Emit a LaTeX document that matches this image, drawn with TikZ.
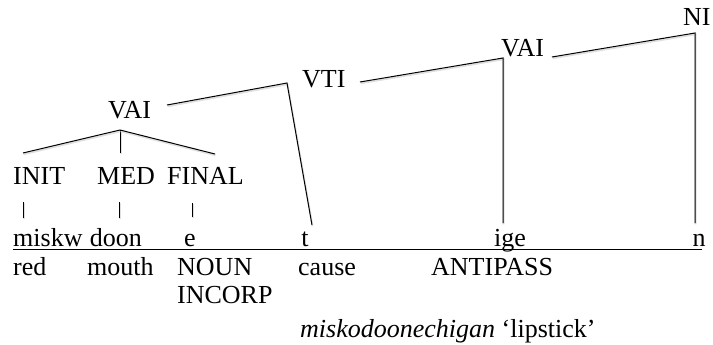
\documentclass[tikz,border=0pt]{standalone}
\usepackage{fontspec}
\setmainfont{Liberation Serif}
\begin{document}
\begin{tikzpicture}[x=1pt,y=-1pt,
  lbl/.style={anchor=base west,inner sep=0pt,font=\fontsize{26}{31}\selectfont},
  lblc/.style={lbl,anchor=base},
  branch/.style={line width=1pt,black,
    preaction={draw=black!12,line width=1.8pt,
      transform canvas={xshift=0.6pt,yshift=-1.3pt}}},
  rule/.style={line width=1pt,black}]
\useasboundingbox (0,0) rectangle (713,345);

% category labels of the tree
\node[lbl] (ni)   at (683,26)  {NI};
\node[lbl] (vai2) at (501,57)  {VAI};
\node[lbl] (vti)  at (302,88)  {VTI};
\node[lbl] (vai1) at (108,118) {VAI};
\node[lbl] (init)  at (13,184)  {INIT};
\node[lbl] (med)   at (97,184)  {MED};
\node[lbl] (final) at (167,184) {FINAL};

% morphemes
\node[lbl]  (miskw) at (13,246)  {miskw};
\node[lbl,anchor=base east] (doon) at (142,246) {doon};
\node[lblc] (e)   at (190,246) {e};
\node[lblc] (t)   at (305,246) {t};
\node[lblc] (ige) at (510,246) {ige};
\node[lblc] (n)   at (699,246) {n};
\coordinate (ul-start) at (13,249);
\coordinate (ul-end)   at (702,249);
\draw[rule] (ul-start) -- (ul-end);

% glosses
\node[lbl] (red)      at (13,275)  {red};
\node[lbl] (mouth)    at (87,275)  {mouth};
\node[lbl] (noun)     at (177,275) {NOUN};
\node[lbl] (incorp)   at (177,303) {INCORP};
\node[lbl] (cause)    at (298,275) {cause};
\node[lbl] (antipass) at (431,275) {ANTIPASS};
\node[lbl] (word)     at (300,337) {\textit{miskodoonechigan} ‘lipstick’};

% branch points
\coordinate (vai1-apex) at (120,130);
\coordinate (init-top)  at (23,153);
\coordinate (med-top)   at (120,153);
\coordinate (final-top) at (215,154);
\coordinate (vti-apex)  at (287,83);
\coordinate (vai1-out)  at (167,105);
\coordinate (t-top)     at (312,225);
\coordinate (vti-out)   at (360,82);
\coordinate (vai2-apex) at (503,58);
\coordinate (ige-top)   at (503,223);
\coordinate (vai2-out)  at (552,57);
\coordinate (ni-apex)   at (695,33);
\coordinate (n-top)     at (695,223);

% VAI -> INIT MED FINAL
\draw[branch] (vai1-apex) -- (init-top);
\draw[branch] (vai1-apex) -- (med-top);
\draw[branch] (vai1-apex) -- (final-top);

% short links from the affix labels to their morphemes
\coordinate (init-a) at (23,202);  \coordinate (init-b) at (23,218);
\coordinate (med-a)  at (119,202); \coordinate (med-b)  at (119,218);
\coordinate (fin-a)  at (192,203); \coordinate (fin-b)  at (192,217);
\draw[branch] (init-a) -- (init-b);
\draw[branch] (med-a) -- (med-b);
\draw[branch] (fin-a) -- (fin-b);

% higher derivations
\draw[branch] (vai1-out) -- (vti-apex) -- (t-top);
\draw[branch] (vti-out) -- (vai2-apex) -- (ige-top);
\draw[branch] (vai2-out) -- (ni-apex) -- (n-top);
\end{tikzpicture}
\end{document}
